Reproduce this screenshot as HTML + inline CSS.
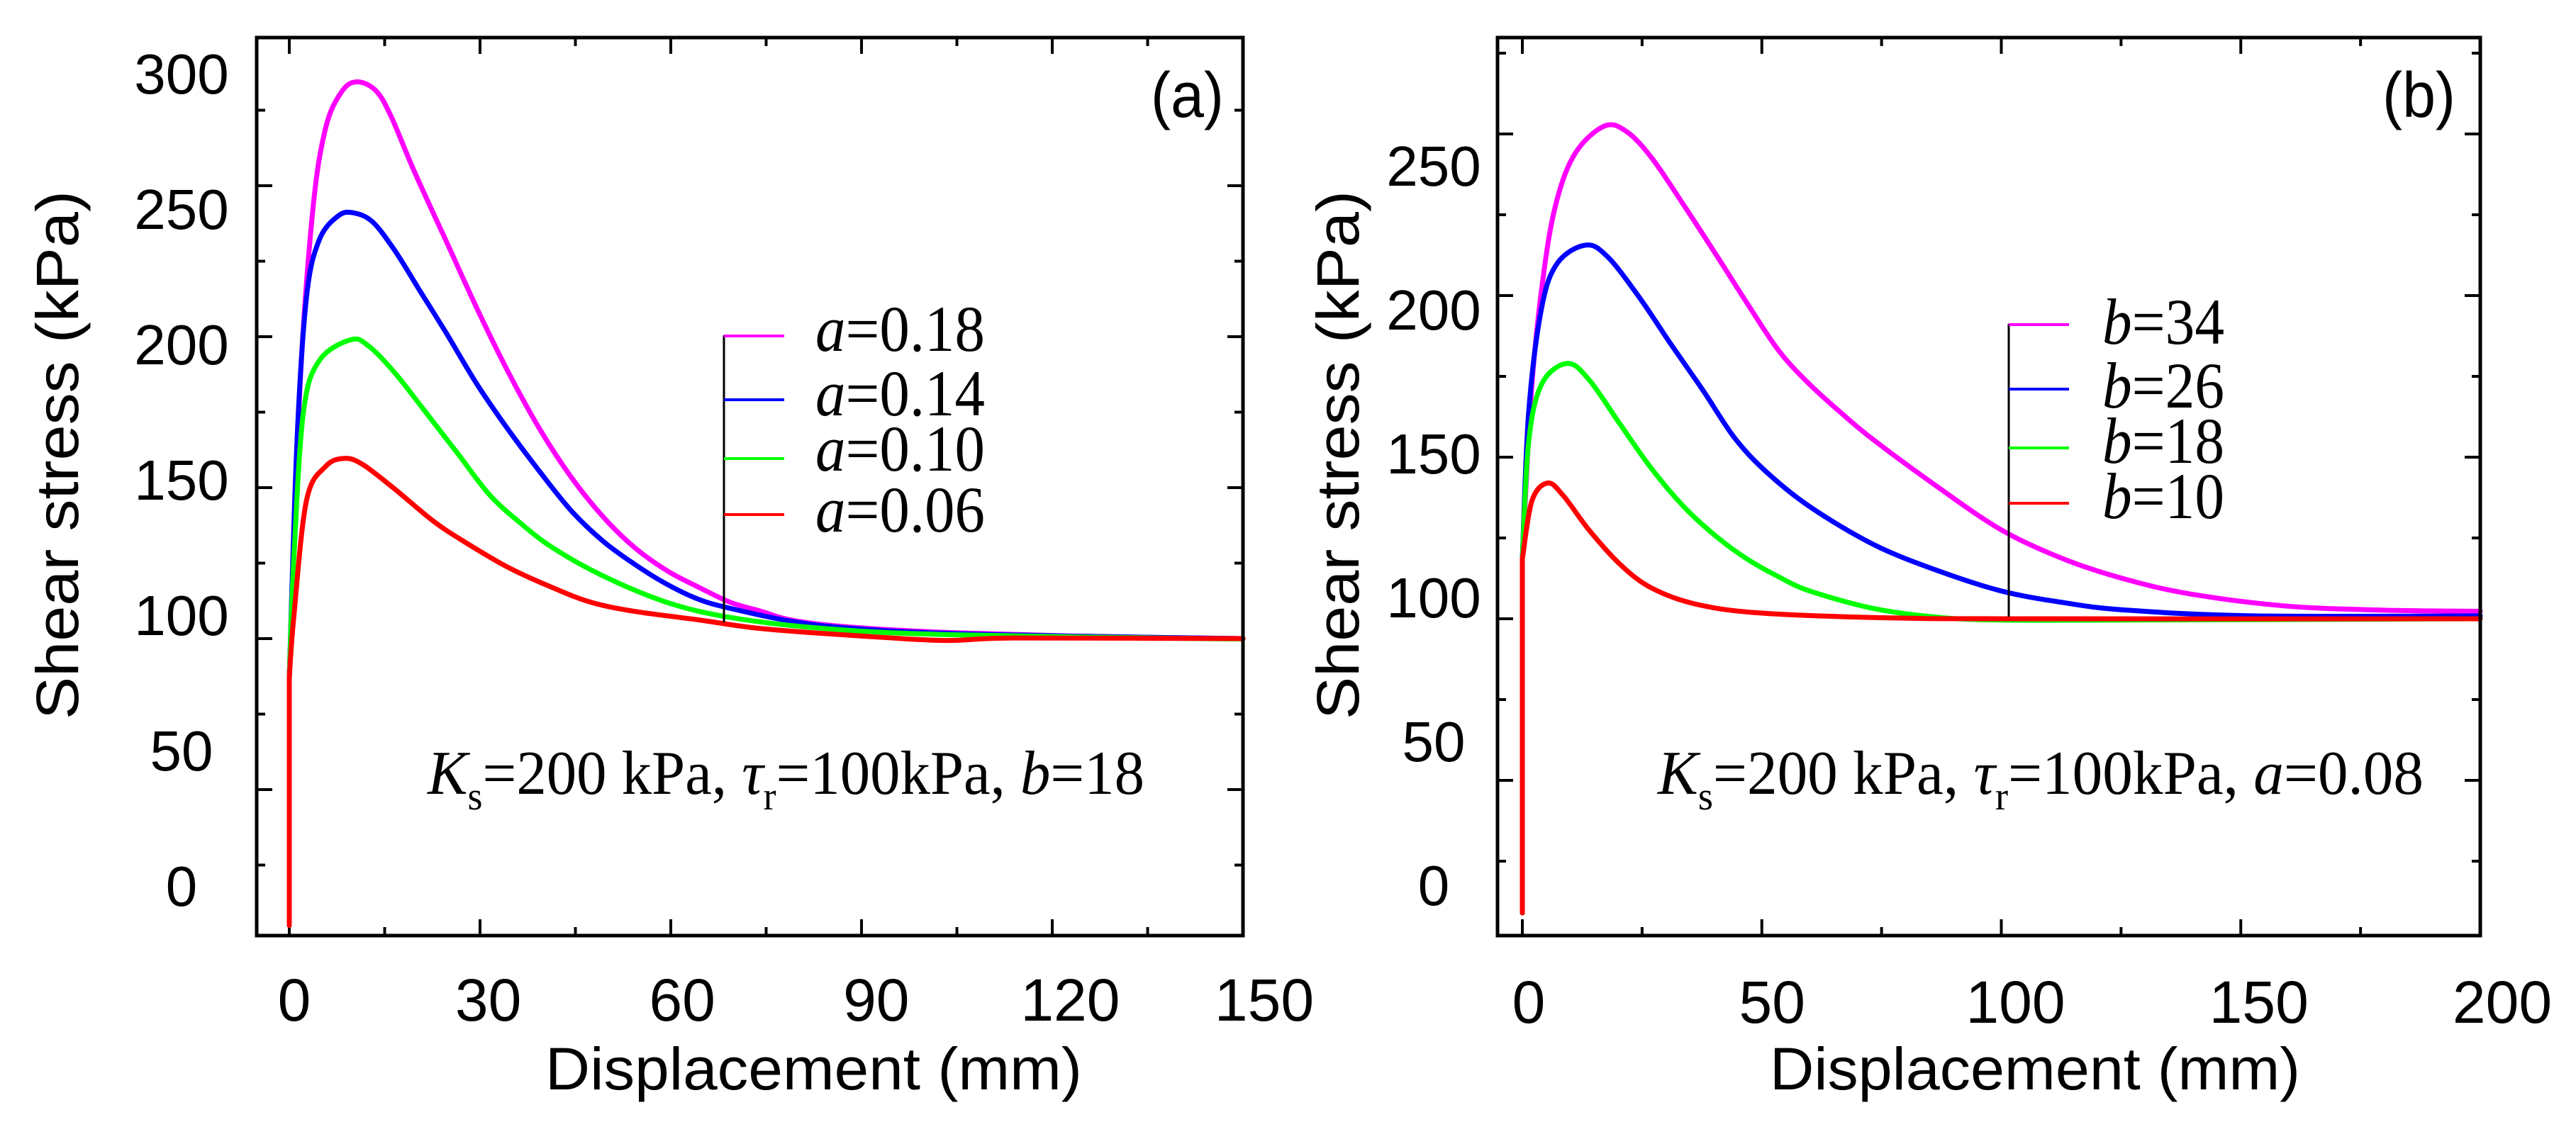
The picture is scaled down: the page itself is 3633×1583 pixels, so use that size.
<!DOCTYPE html>
<html><head><meta charset="utf-8">
<style>html,body{margin:0;padding:0;background:#fff;}svg{display:block;}</style>
</head><body>
<svg id="fig" xmlns="http://www.w3.org/2000/svg" width="3633" height="1583" viewBox="0 0 3633 1583"></svg>
<script>
// ---------- Panel (a) data ----------
const aSeriesNames = ["a=0.18","a=0.14","a=0.10","a=0.06"];
const aColors = ["#ff00ff","#0000ff","#00ff00","#ff0000"];
const aX018 = [0,0,1.7,3.7,5.7,8.2,10.6,13.6,16,19.6,24.6,29.6,34.5,39.5,44.5,49.5,54.4,59.4,64.4,69.4,74.3,79.3,89,104,124,150];
const aY018 = [5,87,184,242,269,281,284.4,281.5,273,255,232,209,188,169,153,140,130,122.5,117,112,109,106,103.7,102,100.8,100];
const aX014 = [0,0,1.2,2.7,4.7,7.7,10.1,13.1,16.6,20.6,24.6,29.6,34.5,39.5,44.5,49.5,54.4,59.4,64.4,69.4,79.3,89,104,124,150];
const aY014 = [5,87,165,213,232,240,241,238,228.5,215,201.5,184,169,155,142,132,124.5,118,113,110,105.6,103.3,101.7,100.8,100];
const aX010 = [0,0,0.7,2.2,4.7,9.7,12.6,16.6,21.6,26.6,31.5,36.5,41.5,49.5,59.4,69.4,84.3,104,144,150];
const aY010 = [5,87,126,174.6,192,199,196.7,188,174.6,161,147.6,138,130,120.6,112,107,103.3,101.3,100,100];
const aX006 = [0,0,0.7,2.7,5.7,8.7,11.6,16.6,22.6,27.6,34.5,41.5,47.5,54.4,64.4,74.3,89,103,114,150];
const aY006 = [5,87,107,145.7,157,159.7,157.6,149.5,139,132,123.5,116.8,112,109,106.2,103.3,101,99.4,100.2,100];
const aXTicks = [0,30,60,90,120,150];
const aYTicks = [0,50,100,150,200,250,300];

// ---------- Panel (b) data ----------
const bSeriesNames = ["b=34","b=26","b=18","b=10"];
const bColors = ["#ff00ff","#0000ff","#00ff00","#ff0000"];
const bX34 = [0,0,2,4.6,7.3,11.2,17.2,21.8,27,33.7,40.3,46.9,53.5,60,66.7,73.3,86.5,100,113,126,139.4,159,179,200];
const bY34 = [9,118.5,172.5,208.5,230,244.4,252.5,250.7,242.6,228,213,197.7,183,172.5,163.5,155.4,141,127.5,118.5,112.2,107.7,104,102.7,102.3];
const bX26 = [0,0,1.3,4,7.3,13.2,17.8,24.4,31,37.7,44.3,50.9,60,73.3,86.5,100,113,126,152.6,200];
const bY26 = [9,118.5,163.5,196,210,215.6,212,199.5,185,170.7,156,145.5,134.7,123,115,108.6,105,102.7,100.9,100.9];
const bX18 = [0,0,1.3,4,9.3,13.9,20.5,27,33.7,40.3,46.9,53.5,60,73.3,86.5,100,126,200];
const bY18 = [9,118.5,154.5,172.5,179,174,160,146.4,134.7,125.7,118.5,113,108.6,103.2,100.5,99.6,99.6,100];
const bX10 = [0,0,2,5.3,8.6,13.9,20.5,27,36.3,49.5,73.3,100,200];
const bY10 = [9,118.5,136.5,142,138,127.5,116.7,109.5,104.5,101.8,100.4,100,100];
const bXTicks = [0,50,100,150,200];
const bYTicks = [0,50,100,150,200,250];

const NS = "http://www.w3.org/2000/svg";
const svg = document.getElementById("fig");
function mk(tag, attrs, parent){
  const e = document.createElementNS(NS, tag);
  for (const k in attrs) e.setAttribute(k, attrs[k]);
  (parent||svg).appendChild(e);
  return e;
}
function smoothPath(pts){
  // first segment straight (vertical rise), rest Catmull-Rom
  let d = "M" + pts[0][0].toFixed(1) + "," + pts[0][1].toFixed(1) + " L" + pts[1][0].toFixed(1) + "," + pts[1][1].toFixed(1);
  const p = pts.slice(1);
  for (let i = 0; i < p.length - 1; i++){
    const p0 = p[Math.max(0, i-1)], p1 = p[i], p2 = p[i+1], p3 = p[Math.min(p.length-1, i+2)];
    const c1x = p1[0] + (p2[0]-p0[0])/6, c1y = p1[1] + (p2[1]-p0[1])/6;
    const c2x = p2[0] - (p3[0]-p1[0])/6, c2y = p2[1] - (p3[1]-p1[1])/6;
    d += " C" + c1x.toFixed(1) + "," + c1y.toFixed(1) + " " + c2x.toFixed(1) + "," + c2y.toFixed(1) + " " + p2[0].toFixed(1) + "," + p2[1].toFixed(1);
  }
  return d;
}

function panel(cfg){
  const g = mk("g", {});
  
  
  const sx = v => cfg.x0 + v*cfg.xs;
  const sy = v => cfg.y100 - (v-100)*cfg.ys;
  for (let v = 0; v <= cfg.xmax + 1e-9; v += cfg.xminor){
    const major = Math.abs(v/cfg.xmajor - Math.round(v/cfg.xmajor)) < 1e-6;
    const L = major ? 23 : 12;
    const X = sx(v);
    if (X > cfg.R - 2) continue;
    const t1 = mk("line", {x1:X, x2:X, y1:cfg.B, y2:cfg.B-L, stroke:"#000","stroke-width":4}, g);
    
    
    const t2 = mk("line", {x1:X, x2:X, y1:cfg.T, y2:cfg.T+L, stroke:"#000","stroke-width":4}, g);
    
    
  }
  for (let v = 0; v <= 320; v += 25){
    const Y = sy(v);
    if (Y < cfg.T + 5 || Y > cfg.B - 5) continue;
    const L = (v % 50 === 0) ? 22 : 12;
    const t1 = mk("line", {x1:cfg.L, x2:cfg.L+L, y1:Y, y2:Y, stroke:"#000","stroke-width":4}, g);
    
    
    const t2 = mk("line", {x1:cfg.R, x2:cfg.R-L, y1:Y, y2:Y, stroke:"#000","stroke-width":4}, g);
    
    
  }
  cfg.series.forEach((s, i) => {
    const pts = s.xs.map((xv, j) => [sx(xv), sy(s.ys[j])]);
    const p = mk("path", {d:smoothPath(pts), fill:"none", stroke:s.color, "stroke-width":7, "stroke-linejoin":"round", "stroke-linecap":"round"}, g);
    
    
  });
  const fr = mk("rect", {x:cfg.L, y:cfg.T, width:cfg.R-cfg.L, height:cfg.B-cfg.T, fill:"none", stroke:"#000", "stroke-width":5}, g);
  
  
  cfg.xTicks.forEach(v => {
    const t = mk("text", {x: cfg.xl0 + v*cfg.xls, y: cfg.xlBase, "text-anchor":"middle", "font-family":"Liberation Sans, sans-serif", "font-size":84}, g);
    t.textContent = v;
    
    
  });
  cfg.yTicks.forEach(v => {
    const t = mk("text", {x: cfg.ylX, y: cfg.yl0 + (cfg.ylTop - v)/50*cfg.ylStep, "text-anchor":"middle", "font-family":"Liberation Sans, sans-serif", "font-size":80}, g);
    t.textContent = v;
    
    
  });
  const xt = mk("text", {x: cfg.xtX, y: 1537, "font-family":"Liberation Sans, sans-serif", "font-size":84, textLength: cfg.xtLen, lengthAdjust:"spacingAndGlyphs"}, g);
  xt.textContent = "Displacement (mm)";
  
  
  const yt = mk("text", {x:0, y:0, transform:"translate(" + cfg.ytX + ",1015) rotate(-90)", "font-family":"Liberation Sans, sans-serif", "font-size":84, textLength:746, lengthAdjust:"spacingAndGlyphs"}, g);
  yt.textContent = "Shear stress (kPa)";
  
  
  const pl = mk("text", {x: cfg.plX, y: 165, "font-family":"Liberation Sans, sans-serif", "font-size":90, textLength:103, lengthAdjust:"spacingAndGlyphs"}, g);
  pl.textContent = cfg.label;
  
  
  const lg = mk("g", {}, g);
  
  
  const vl = mk("line", {x1:cfg.lgX, x2:cfg.lgX, y1:cfg.lgLines[0]-1, y2:cfg.lgBottom, stroke:"#000", "stroke-width":3}, lg);
  
  
  cfg.series.forEach((s, i) => {
    const ln = mk("line", {x1:cfg.lgX, x2:cfg.lgX2, y1:cfg.lgLines[i], y2:cfg.lgLines[i], stroke:s.color, "stroke-width":4}, lg);
    
    
    const parts = s.name.split("=");
    const t = mk("text", {x:cfg.lgTX, y:cfg.lgBase[i], "font-family":"Liberation Serif, serif", "font-size":92, textLength:cfg.lgTLen, lengthAdjust:"spacingAndGlyphs"}, lg);
    const it = mk("tspan", {"font-style":"italic"}, t);
    it.textContent = parts[0];
    const rest = mk("tspan", {}, t);
    rest.textContent = "=" + parts[1];
    
    
  });
  const an = mk("text", {x:cfg.anX, y:1120, "font-family":"Liberation Serif, serif", "font-size":88, textLength:cfg.anLen, lengthAdjust:"spacingAndGlyphs"}, g);
  const k = mk("tspan", {"font-style":"italic"}, an); k.textContent = "K";
  const s1 = mk("tspan", {"font-size":56, dy:22}, an); s1.textContent = "s";
  const s2 = mk("tspan", {dy:-22}, an); s2.textContent = "=200 kPa, ";
  const ta = mk("tspan", {"font-style":"italic"}, an); ta.textContent = "τ";
  const s3 = mk("tspan", {"font-size":56, dy:22}, an); s3.textContent = "r";
  const s4 = mk("tspan", {dy:-22}, an); s4.textContent = "=100kPa, ";
  const pv = mk("tspan", {"font-style":"italic"}, an); pv.textContent = cfg.anVar;
  const s5 = mk("tspan", {}, an); s5.textContent = "=" + cfg.anVal;
  
  
}

panel({
  name:"panel-a", L:362, R:1753, T:53, B:1320,
  x0:408, xs:8.967, y100:901, ys:4.26, xmax:150, xminor:15, xmajor:30,
  xTicks:aXTicks, yTicks:aYTicks,
  xl0:415, xls:9.12, xlBase:1440,
  ylX:256, yl0:132, ylTop:300, ylStep:191,
  xtX:769, xtLen:757, ytX:110, plX:1623, label:"(a)",
  lgX:1021, lgX2:1106, lgLines:[474,564,647,726], lgBottom:878,
  lgTX:1150, lgTLen:239, lgBase:[495,586,664,750],
  anX:603, anLen:1011, anVar:"b", anVal:"18",
  series:[
    {name:aSeriesNames[0], color:aColors[0], xs:aX018, ys:aY018},
    {name:aSeriesNames[1], color:aColors[1], xs:aX014, ys:aY014},
    {name:aSeriesNames[2], color:aColors[2], xs:aX010, ys:aY010},
    {name:aSeriesNames[3], color:aColors[3], xs:aX006, ys:aY006}
  ]
});

panel({
  name:"panel-b", L:2112, R:3498, T:53, B:1320,
  x0:2147, xs:6.755, y100:873, ys:4.56, xmax:200, xminor:25, xmajor:50,
  xTicks:bXTicks, yTicks:bYTicks,
  xl0:2156, xls:6.865, xlBase:1443,
  ylX:2022, yl0:262, ylTop:250, ylStep:203,
  xtX:2496, xtLen:748, ytX:1916, plX:3360, label:"(b)",
  lgX:2833, lgX2:2918, lgLines:[458,549,632,710], lgBottom:870,
  lgTX:2965, lgTLen:172, lgBase:[485,575,653,731],
  anX:2338, anLen:1080, anVar:"a", anVal:"0.08",
  series:[
    {name:bSeriesNames[0], color:bColors[0], xs:bX34, ys:bY34},
    {name:bSeriesNames[1], color:bColors[1], xs:bX26, ys:bY26},
    {name:bSeriesNames[2], color:bColors[2], xs:bX18, ys:bY18},
    {name:bSeriesNames[3], color:bColors[3], xs:bX10, ys:bY10}
  ]
});
</script>
</body></html>
